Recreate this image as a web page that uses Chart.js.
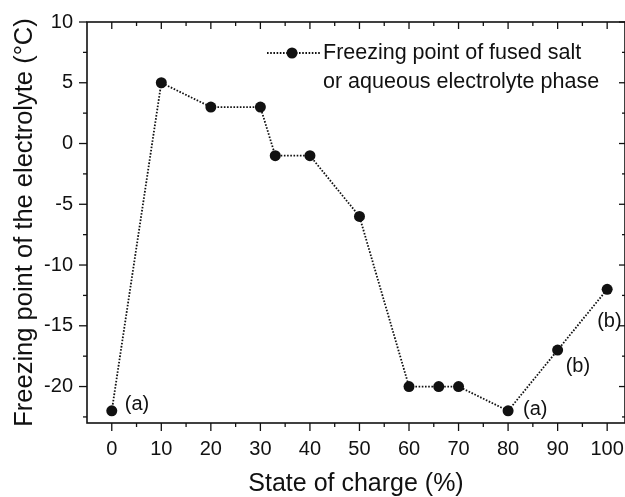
<!DOCTYPE html>
<html>
<head>
<meta charset="utf-8">
<script src="https://cdn.jsdelivr.net/npm/chart.js@4.4.1/dist/chart.umd.min.js"></script>
<style>
  html, body { margin:0; padding:0; background:#fff; }
</style>
</head>
<body>
<canvas id="chart" width="625" height="497"></canvas>
<script>
// data
const stateOfCharge = [0, 10, 20, 30, 33, 40, 50, 60, 66, 70, 80, 90, 100];
const freezingPoint = [-22, 5, 3, 3, -1, -1, -6, -20, -20, -20, -22, -17, -12];
const seriesLabel = ["Freezing point of fused salt", "or aqueous electrolyte phase"];
const noteIndex = [0, 10, 11, 12];
const noteText = ["(a)", "(a)", "(b)", "(b)"];
const xTitle = "State of charge (%)";
const yTitle = "Freezing point of the electrolyte (°C)";

const INK = "#111";
const FONT = '"Liberation Sans", Arial, Helvetica, sans-serif';
// pixel offsets for the (a)/(b) notes, same order as noteIndex
const noteOffset = [[13, -6], [15, -1], [8, 16], [-10, 32]];

const decorations = {
  id: "decorations",
  afterDraw(chart) {
    const {ctx, chartArea: a, scales: {x, y}} = chart;
    const seg = (x1, y1, x2, y2) => { ctx.beginPath(); ctx.moveTo(x1, y1); ctx.lineTo(x2, y2); ctx.stroke(); };
    ctx.save();
    ctx.strokeStyle = INK; ctx.lineWidth = 1.6;
    ctx.strokeRect(a.left, a.top, a.right - a.left, a.bottom - a.top);
    ctx.lineWidth = 1.3;
    x.ticks.forEach(t => {
      const px = x.getPixelForValue(t.value);
      if (px <= a.left + 1 || px >= a.right - 1) return;
      const major = t.value % 10 === 0;
      seg(px, a.bottom, px, a.bottom + (major ? 8 : 4));
      seg(px, a.top, px, a.top + (major ? 7 : 4));
    });
    y.ticks.forEach(t => {
      const py = y.getPixelForValue(t.value);
      if (py < a.top - 1 || py > a.bottom + 1) return;
      const major = t.value % 5 === 0;
      seg(a.left, py, a.left - (major ? 8 : 4), py);
      seg(a.right, py, a.right - (major ? 6 : 3), py);
    });

    // notes
    ctx.fillStyle = INK;
    ctx.font = "20px " + FONT;
    ctx.textBaseline = "middle"; ctx.textAlign = "left";
    noteIndex.forEach((i, k) => {
      const px = x.getPixelForValue(stateOfCharge[i]);
      const py = y.getPixelForValue(freezingPoint[i]);
      ctx.fillText(noteText[k], px + noteOffset[k][0], py + noteOffset[k][1]);
    });

    // legend
    const lx = 267, ly = 53;
    ctx.setLineDash([1.6, 1.6]); ctx.lineWidth = 1.8;
    seg(lx, ly, lx + 53, ly);
    ctx.setLineDash([]);
    ctx.beginPath(); ctx.arc(lx + 25, ly, 5.5, 0, Math.PI * 2); ctx.fill();
    ctx.font = "21.5px " + FONT;
    ctx.fillText(seriesLabel[0], 323, ly);
    ctx.fillText(seriesLabel[1], 323, ly + 29);
    ctx.restore();
  }
};

new Chart(document.getElementById("chart"), {
  type: "scatter",
  data: {
    datasets: [{
      data: stateOfCharge.map((v, i) => ({x: v, y: freezingPoint[i]})),
      showLine: true,
      borderColor: INK, borderWidth: 1.8, borderDash: [1.6, 1.6],
      pointRadius: 5.5, pointBackgroundColor: INK, pointBorderColor: INK, pointBorderWidth: 0,
      tension: 0, clip: false
    }]
  },
  options: {
    responsive: false, animation: false,
    layout: {autoPadding: false, padding: {top: 22, right: 0, left: 0, bottom: 0}},
    plugins: {legend: {display: false}, tooltip: {enabled: false}},
    scales: {
      x: {
        type: "linear", min: -5, max: 103.6,
        afterFit: s => { s.height = 74; s.paddingLeft = 0; s.paddingRight = 0; },
        grid: {display: false}, border: {display: false},
        ticks: {stepSize: 5, includeBounds: false, autoSkip: false, maxRotation: 0, padding: 6,
          color: INK, font: {family: FONT, size: 20},
          callback: v => (v % 10 === 0 && v >= 0 && v <= 100) ? String(v) : ""},
        title: {display: true, text: xTitle, color: INK, font: {family: FONT, size: 25, lineHeight: 1}, padding: {top: 0, bottom: 0}}
      },
      y: {
        type: "linear", min: -23, max: 10,
        afterFit: s => { s.width = 87; s.paddingTop = 0; s.paddingBottom = 0; },
        grid: {display: false}, border: {display: false},
        ticks: {stepSize: 2.5, includeBounds: false, autoSkip: false, padding: 6,
          color: INK, font: {family: FONT, size: 20},
          callback: v => v % 5 === 0 ? String(v) : ""},
        title: {display: true, text: yTitle, color: INK, font: {family: FONT, size: 25.5, lineHeight: 1}, padding: {top: 12, bottom: 0}}
      }
    }
  },
  plugins: [decorations]
});
</script>
</body>
</html>
